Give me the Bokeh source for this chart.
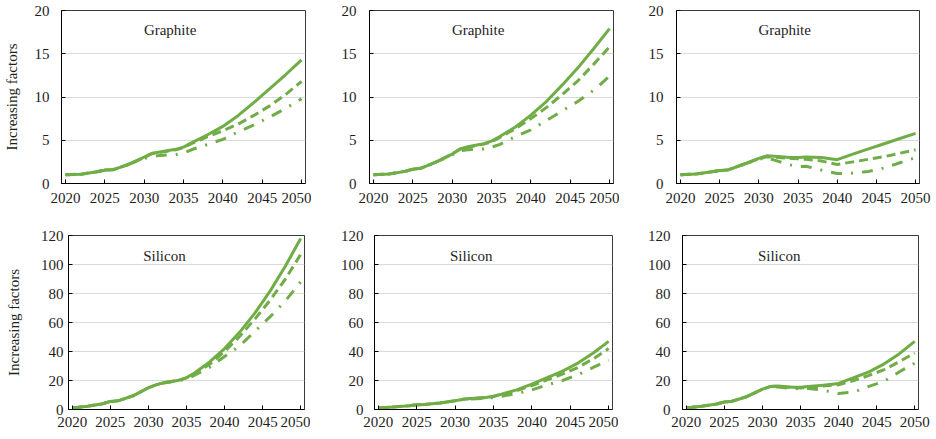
from bokeh.plotting import figure
from bokeh.layouts import column, row
from bokeh.models import Range1d, FixedTicker, Label
from bokeh.embed import file_html
from bokeh.resources import INLINE

YEARS = [2020, 2022, 2024, 2025, 2026, 2028, 2030, 2031, 2032, 2034, 2035,
         2036, 2038, 2040, 2042, 2044, 2046, 2048, 2050]
X_TICKS = [2020, 2025, 2030, 2035, 2040, 2045, 2050]
G_TICKS = [0, 5, 10, 15, 20]
S_TICKS = [0, 20, 40, 60, 80, 100, 120]

# Graphite panels (top row)
G1_SOLID = [1.0, 1.08, 1.35, 1.55, 1.58, 2.2, 3.05, 3.5, 3.65, 3.95, 4.2, 4.7, 5.6, 6.6, 7.9, 9.4, 11.0, 12.6, 14.3]
G1_DASH = [1.0, 1.08, 1.35, 1.55, 1.58, 2.2, 3.0, 3.45, 3.6, 3.9, 4.15, 4.6, 5.4, 6.1, 6.9, 7.9, 9.0, 10.3, 11.8]
G1_DASHDOT = [1.0, 1.08, 1.35, 1.55, 1.58, 2.2, 2.9, 3.1, 3.25, 3.35, 3.5, 3.9, 4.5, 5.1, 6.0, 6.8, 7.7, 8.7, 9.8]

G2_SOLID = [1.0, 1.1, 1.4, 1.65, 1.75, 2.5, 3.4, 4.0, 4.25, 4.6, 4.9, 5.4, 6.5, 7.9, 9.5, 11.4, 13.4, 15.6, 17.9]
G2_DASH = [1.0, 1.1, 1.4, 1.65, 1.75, 2.5, 3.4, 3.95, 4.2, 4.55, 4.8, 5.3, 6.3, 7.5, 8.8, 10.3, 11.9, 13.8, 15.8]
G2_DASHDOT = [1.0, 1.1, 1.4, 1.65, 1.75, 2.5, 3.3, 3.8, 3.9, 4.0, 4.2, 4.5, 5.4, 6.2, 7.3, 8.4, 9.5, 10.8, 12.4]

G3_SOLID = [1.0, 1.1, 1.35, 1.5, 1.55, 2.2, 2.9, 3.2, 3.15, 3.0, 3.0, 3.05, 3.0, 2.75, 3.4, 4.0, 4.6, 5.2, 5.8]
G3_DASH = [1.0, 1.1, 1.35, 1.5, 1.55, 2.2, 2.85, 3.1, 3.05, 2.9, 2.85, 2.8, 2.6, 2.2, 2.5, 2.8, 3.1, 3.5, 3.9]
G3_DASHDOT = [1.0, 1.1, 1.35, 1.5, 1.55, 2.2, 2.8, 3.0, 2.7, 2.15, 1.95, 2.0, 1.55, 1.15, 1.2, 1.4, 1.8, 2.4, 3.0]

# Silicon panels (bottom row)
S1_SOLID = [1.0, 2.2, 4.0, 5.6, 6.0, 9.5, 15.0, 17.0, 18.5, 20.2, 22.0, 25.0, 32.6, 42.0, 53.4, 66.6, 81.8, 99.0, 118.0]
S1_DASH = [1.0, 2.2, 4.0, 5.6, 6.0, 9.5, 15.0, 17.0, 18.5, 20.0, 21.8, 24.5, 31.0, 40.0, 50.5, 62.5, 75.5, 90.0, 107.0]
S1_DASHDOT = [1.0, 2.2, 4.0, 5.6, 6.0, 9.5, 15.0, 17.0, 18.3, 19.8, 21.0, 23.5, 29.0, 36.5, 44.0, 54.0, 64.0, 75.0, 88.0]

S2_SOLID = [1.0, 1.8, 2.6, 3.2, 3.5, 4.5, 6.0, 7.0, 7.6, 8.3, 9.2, 10.5, 13.5, 17.5, 22.0, 26.5, 32.0, 39.0, 47.0]
S2_DASH = [1.0, 1.8, 2.6, 3.2, 3.5, 4.5, 6.0, 7.0, 7.5, 8.2, 9.0, 10.2, 13.0, 16.5, 20.5, 24.5, 29.0, 35.0, 42.0]
S2_DASHDOT = [1.0, 1.8, 2.6, 3.2, 3.5, 4.5, 6.0, 6.9, 7.3, 7.8, 8.2, 9.0, 11.0, 13.5, 17.0, 20.0, 24.0, 29.0, 34.0]

S3_SOLID = [1.0, 2.2, 3.8, 5.2, 5.7, 9.0, 14.0, 15.8, 16.2, 15.4, 15.3, 15.8, 16.8, 18.0, 22.0, 26.0, 31.5, 38.5, 47.0]
S3_DASH = [1.0, 2.2, 3.8, 5.2, 5.7, 9.0, 14.0, 15.8, 16.0, 15.0, 14.8, 15.3, 16.2, 17.0, 20.0, 23.5, 27.5, 33.0, 39.0]
S3_DASHDOT = [1.0, 2.2, 3.8, 5.2, 5.7, 9.0, 14.0, 15.6, 15.5, 14.5, 14.3, 14.5, 13.3, 11.0, 12.0, 16.0, 19.5, 26.0, 32.0]

GREEN = "#70ad47"
FONT = "Liberation Serif"
TXT = "#1e1e1e"


def panel(series, ymax, yticks, name, name_x, name_y, ylabel,
          left, fw, right, top, fh, bottom, y_standoff, x_standoff, lab_standoff=12):
    p = figure(frame_width=fw, frame_height=fh,
               min_border_left=left, min_border_right=right,
               min_border_top=top, min_border_bottom=bottom,
               x_range=Range1d(2019.5, 2050.5), y_range=Range1d(0, ymax),
               output_backend="svg", toolbar_location=None)
    p.background_fill_color = "white"
    p.border_fill_color = "white"
    p.outline_line_color = "#3a3a3a"
    p.outline_line_width = 1
    p.xgrid.visible = False
    p.ygrid.grid_line_color = "#d9d9d9"
    p.ygrid.grid_line_width = 1

    p.xaxis.ticker = FixedTicker(ticks=X_TICKS, minor_ticks=[])
    p.yaxis.ticker = FixedTicker(ticks=yticks, minor_ticks=[])
    for ax in (p.xaxis, p.yaxis):
        ax.axis_line_color = "black"
        ax.axis_line_width = 1
        ax.major_tick_line_color = "black"
        ax.major_tick_in = 4
        ax.major_tick_out = 0
        ax.minor_tick_line_color = None
        ax.major_label_text_font = FONT
        ax.major_label_text_font_size = "15px"
        ax.major_label_text_color = TXT
    p.yaxis.major_label_standoff = y_standoff
    p.xaxis.major_label_standoff = x_standoff
    if ylabel:
        p.yaxis.axis_label = ylabel
        p.yaxis.axis_label_text_font = FONT
        p.yaxis.axis_label_text_font_size = "15px"
        p.yaxis.axis_label_text_font_style = "normal"
        p.yaxis.axis_label_text_color = TXT
        p.yaxis.axis_label_standoff = lab_standoff

    solid, dash, dashdot = series
    p.line(YEARS, dashdot, line_color=GREEN, line_width=3, line_dash="11 9 2 9")
    p.line(YEARS, dash, line_color=GREEN, line_width=3, line_dash="9 5")
    p.line(YEARS, solid, line_color=GREEN, line_width=3, line_join="round")

    p.add_layout(Label(x=name_x, y=name_y, text=name, text_align="center",
                       text_baseline="middle", text_font=FONT,
                       text_font_size="15px", text_color=TXT))
    return p


p1 = panel((G1_SOLID, G1_DASH, G1_DASHDOT), 20, G_TICKS, "Graphite", 2033.3, 17.7,
           "Increasing factors", 60, 244, 6, 10, 173, 37, 12, 9, 12)
p2 = panel((G2_SOLID, G2_DASH, G2_DASHDOT), 20, G_TICKS, "Graphite", 2033.3, 17.7,
           None, 58, 244, 6, 10, 173, 37, 13, 9)
p3 = panel((G3_SOLID, G3_DASH, G3_DASHDOT), 20, G_TICKS, "Graphite", 2033.3, 17.7,
           None, 57, 243, 18, 10, 173, 37, 13, 9)
p4 = panel((S1_SOLID, S1_DASH, S1_DASHDOT), 120, S_TICKS, "Silicon", 2032.1, 106.2,
           "Increasing factors", 68, 236, 6, 15, 174, 30, 5, 7, 16)
p5 = panel((S2_SOLID, S2_DASH, S2_DASHDOT), 120, S_TICKS, "Silicon", 2032.1, 106.2,
           None, 64, 238, 6, 15, 174, 30, 11, 7)
p6 = panel((S3_SOLID, S3_DASH, S3_DASHDOT), 120, S_TICKS, "Silicon", 2032.2, 106.2,
           None, 64, 236, 18, 15, 174, 30, 12, 7)

layout = column(row(p1, p2, p3, spacing=0), row(p4, p5, p6, spacing=0), spacing=0)
open("out.html", "w").write(file_html(layout, INLINE))
